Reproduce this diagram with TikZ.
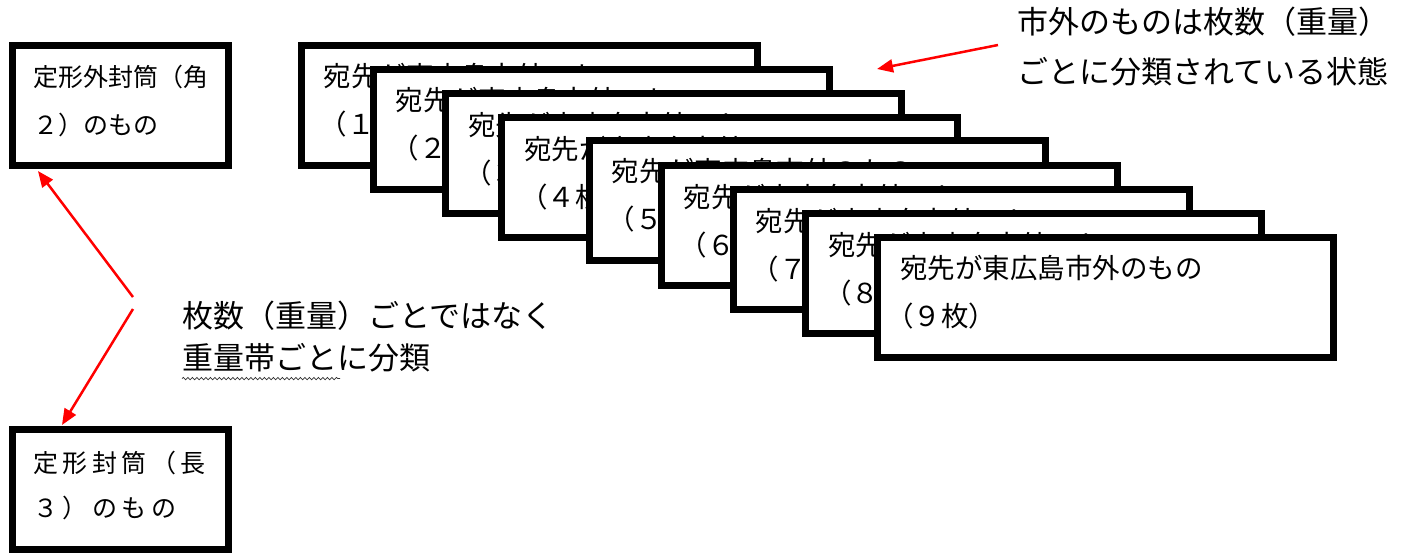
\documentclass[tikz,border=0pt]{standalone}
\usepackage{fontspec}
\setmainfont{Noto Sans CJK JP}
\usetikzlibrary{arrows.meta,calc,decorations.pathmorphing}
\tikzset{
  card/.style={draw=black, line width=7pt, fill=white, minimum width=456pt, minimum height=120pt, inner sep=0pt},
  smallcard/.style={card, minimum width=216pt},
  cardtext/.style={anchor=west, inner sep=0pt, font=\fontsize{27.5pt}{30pt}\selectfont},
  smalltext/.style={anchor=west, inner sep=0pt, font=\fontsize{25pt}{28pt}\selectfont},
  widetext/.style={smalltext, font=\fontsize{25pt}{28pt}\selectfont\addfontfeatures{LetterSpace=18}},
  calloutText/.style={anchor=west, inner sep=0pt, font=\fontsize{31pt}{34pt}\selectfont},
  redarrow/.style={draw=red, line width=2.5pt, -{Triangle[length=16pt,width=13pt]}}
}
\begin{document}
\begin{tikzpicture}[x=1pt,y=-1pt]
\useasboundingbox (0,0) rectangle (1418,554);
% left boxes
\node[smallcard] (kaku) at (120.5,105.5) {};
\node[smalltext] (kaku1) at ($(kaku.north west)+(24,35)$) {定形外封筒（角};
\node[smalltext] (kaku2) at ($(kaku.north west)+(24,83)$) {２）のもの};
\node[smallcard] (naga) at (120.5,489.5) {};
\node[widetext] (naga1) at ($(naga.north west)+(24,37)$) {定形封筒（長};
\node[widetext] (naga2) at ($(naga.north west)+(24,82)$) {３）のもの};
% stack of cards
\foreach \i/\cx/\cy/\lab/\off in {1/529/105/（１枚）/22,2/601/129/（２枚）/22,3/673.5/153.5/（３枚）/22,4/729.5/177.5/（４枚）/22,5/817/200/（５枚）/22,6/889/225.5/（６枚）/22,7/961/249.5/（７枚）/22,8/1033.5/273.5/（８枚）/22,9/1105.5/297/（９枚）/12}{
  \node[card] (b\i) at (\cx,\cy) {};
  \node[cardtext] (t\i a) at ($(b\i.north west)+(26,35)$) {宛先が東広島市外のもの};
  \node[cardtext] (t\i b) at ($(b\i.north west)+(\off,83)$) {\lab};
}
% callouts
\node[calloutText] (c1) at (182,316) {枚数（重量）ごとではなく};
\node[calloutText] (c2) at (182,358) {重量帯ごとに分類};
\draw[black!80, line width=0.7pt, decorate, decoration={snake, amplitude=1.2pt, segment length=4.5pt}]
  ($(c2.south west)+(0,6)$) -- ($(c2.south west)+(158,6)$);
\node[calloutText] (d1) at (1017,22) {市外のものは枚数（重量）};
\node[calloutText] (d2) at (1017,72) {ごとに分類されている状態};
% arrows
\coordinate (s1) at (133,297);
\coordinate (s2) at (133,309);
\coordinate (s3) at (998,45);
\coordinate (tip3) at (877,69);
\draw[redarrow] (s1) -- ($(kaku.south west)+(29,2)$);
\draw[redarrow] (s2) -- ($(naga.north west)+(53,-1)$);
\draw[redarrow] (s3) -- (tip3);
\end{tikzpicture}
\end{document}
